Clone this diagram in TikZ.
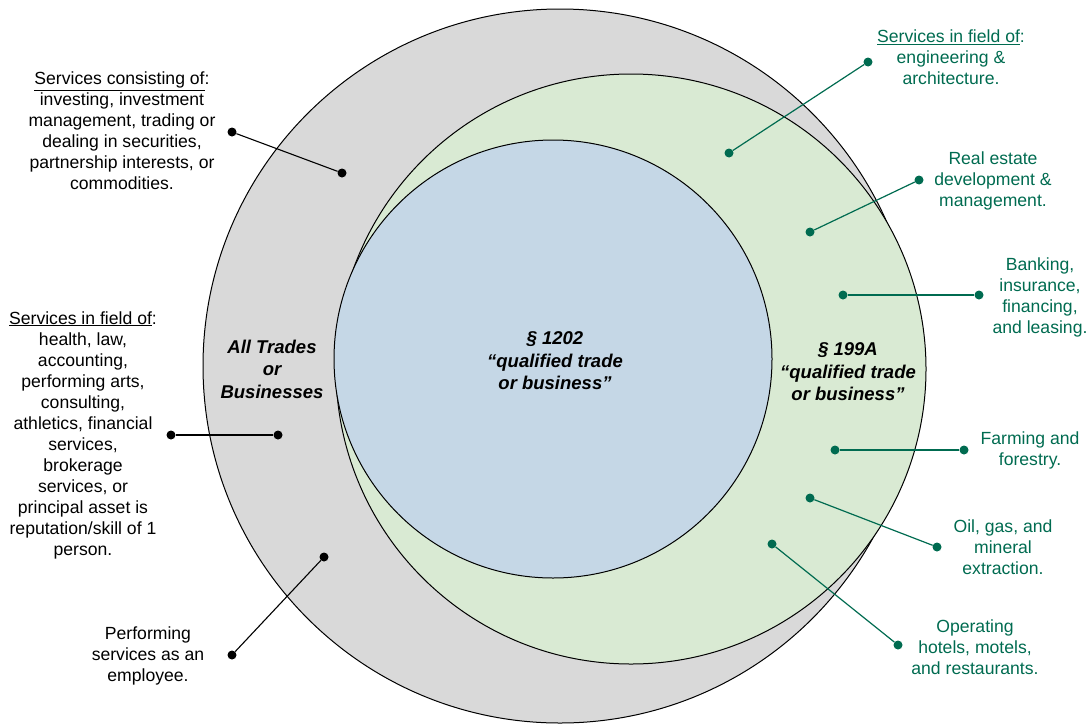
\documentclass[tikz,border=0pt]{standalone}
\usepackage{fontspec}
\setmainfont{Liberation Sans}
\usetikzlibrary{positioning}

\definecolor{allgray}{HTML}{D9D9D9}
\definecolor{qbigreen}{HTML}{D9EAD3}
\definecolor{sbcblue}{HTML}{C5D7E6}
\definecolor{teal}{HTML}{006B50}

\tikzset{
  note/.style={align=center, inner sep=0pt, font=\fontsize{17.6}{21}\selectfont},
  gnote/.style={note, text=teal},
  title/.style={align=center, inner sep=0pt, font=\fontsize{18.5}{22.5}\selectfont\bfseries\itshape},
  ring/.style={draw, circle, inner sep=0pt, line width=1pt},
  dot/.style={circle, fill=black, inner sep=0pt, minimum size=9pt},
  gdot/.style={dot, fill=teal},
  pin/.style={line width=1.1pt},
  gpin/.style={line width=1.2pt, draw=teal},
}

\begin{document}
\begin{tikzpicture}[x=1pt, y=-1pt]
\useasboundingbox (0,0) rectangle (1091,726);

% Circles
\node[ring, fill=allgray, minimum size=714pt] (all) at (560,366) {};
\node[ring, fill=qbigreen, minimum size=590pt] (qbi) at (631,369) {};
\node[ring, fill=sbcblue, minimum size=438pt] (sbc) at (553,359) {};

\node[title] (allT) at (272,369) {All Trades\\or\\Businesses};
\node[title] (sbcT) at (555,361) {\S\ 1202\\``qualified trade\\or business''};
\node[title] (qbiT) at (848,372) {\S\ 199A\\``qualified trade\\or business''};

% Left side: excluded services
\node[note] (invest) at (122,131) {\underline{Services consisting of}:\\investing, investment\\management, trading or\\dealing in securities,\\partnership interests, or\\commodities.};
\node[dot] (investA) at (232,132) {};
\node[dot] (investB) at (342,173) {};
\draw[pin] (investA) -- (investB);

\node[note] (field) at (83,435) {\underline{Services in field of}:\\health, law,\\accounting,\\performing arts,\\consulting,\\athletics, financial\\services,\\brokerage\\services, or\\principal asset is\\reputation/skill of 1\\person.};
\node[dot] (fieldA) at (171,435) {};
\node[dot] (fieldB) at (278,435) {};
\draw[pin] (fieldA) -- (fieldB);

\node[note] (employee) at (148,656) {Performing\\services as an\\employee.};
\node[dot] (employeeA) at (232,655) {};
\node[dot] (employeeB) at (324,557) {};
\draw[pin] (employeeA) -- (employeeB);

% Right side: fields that qualify
\node[gnote] (engin) at (951,57) {\underline{Services in field of}:\\engineering \&\\architecture.};
\node[gdot] (enginA) at (868,62) {};
\node[gdot] (enginB) at (729,153) {};
\draw[gpin] (enginA) -- (enginB);

\node[gnote] (estate) at (993,181) {Real estate\\development \&\\management.};
\node[gdot] (estateA) at (919,180) {};
\node[gdot] (estateB) at (810,232) {};
\draw[gpin] (estateA) -- (estateB);

\node[gnote] (bank) at (1040,297) {Banking,\\insurance,\\financing,\\and leasing.};
\node[gdot] (bankA) at (979,295) {};
\node[gdot] (bankB) at (843,295) {};
\draw[gpin] (bankA) -- (bankB);

\node[gnote] (farm) at (1030,450) {Farming and\\forestry.};
\node[gdot] (farmA) at (964,450) {};
\node[gdot] (farmB) at (835,450) {};
\draw[gpin] (farmA) -- (farmB);

\node[gnote] (oil) at (1003,547) {Oil, gas, and\\mineral\\extraction.};
\node[gdot] (oilA) at (937,547) {};
\node[gdot] (oilB) at (810,498) {};
\draw[gpin] (oilA) -- (oilB);

\node[gnote] (hotel) at (975,647) {Operating\\hotels, motels,\\and restaurants.};
\node[gdot] (hotelA) at (898,645) {};
\node[gdot] (hotelB) at (772,544) {};
\draw[gpin] (hotelA) -- (hotelB);
\end{tikzpicture}
\end{document}
